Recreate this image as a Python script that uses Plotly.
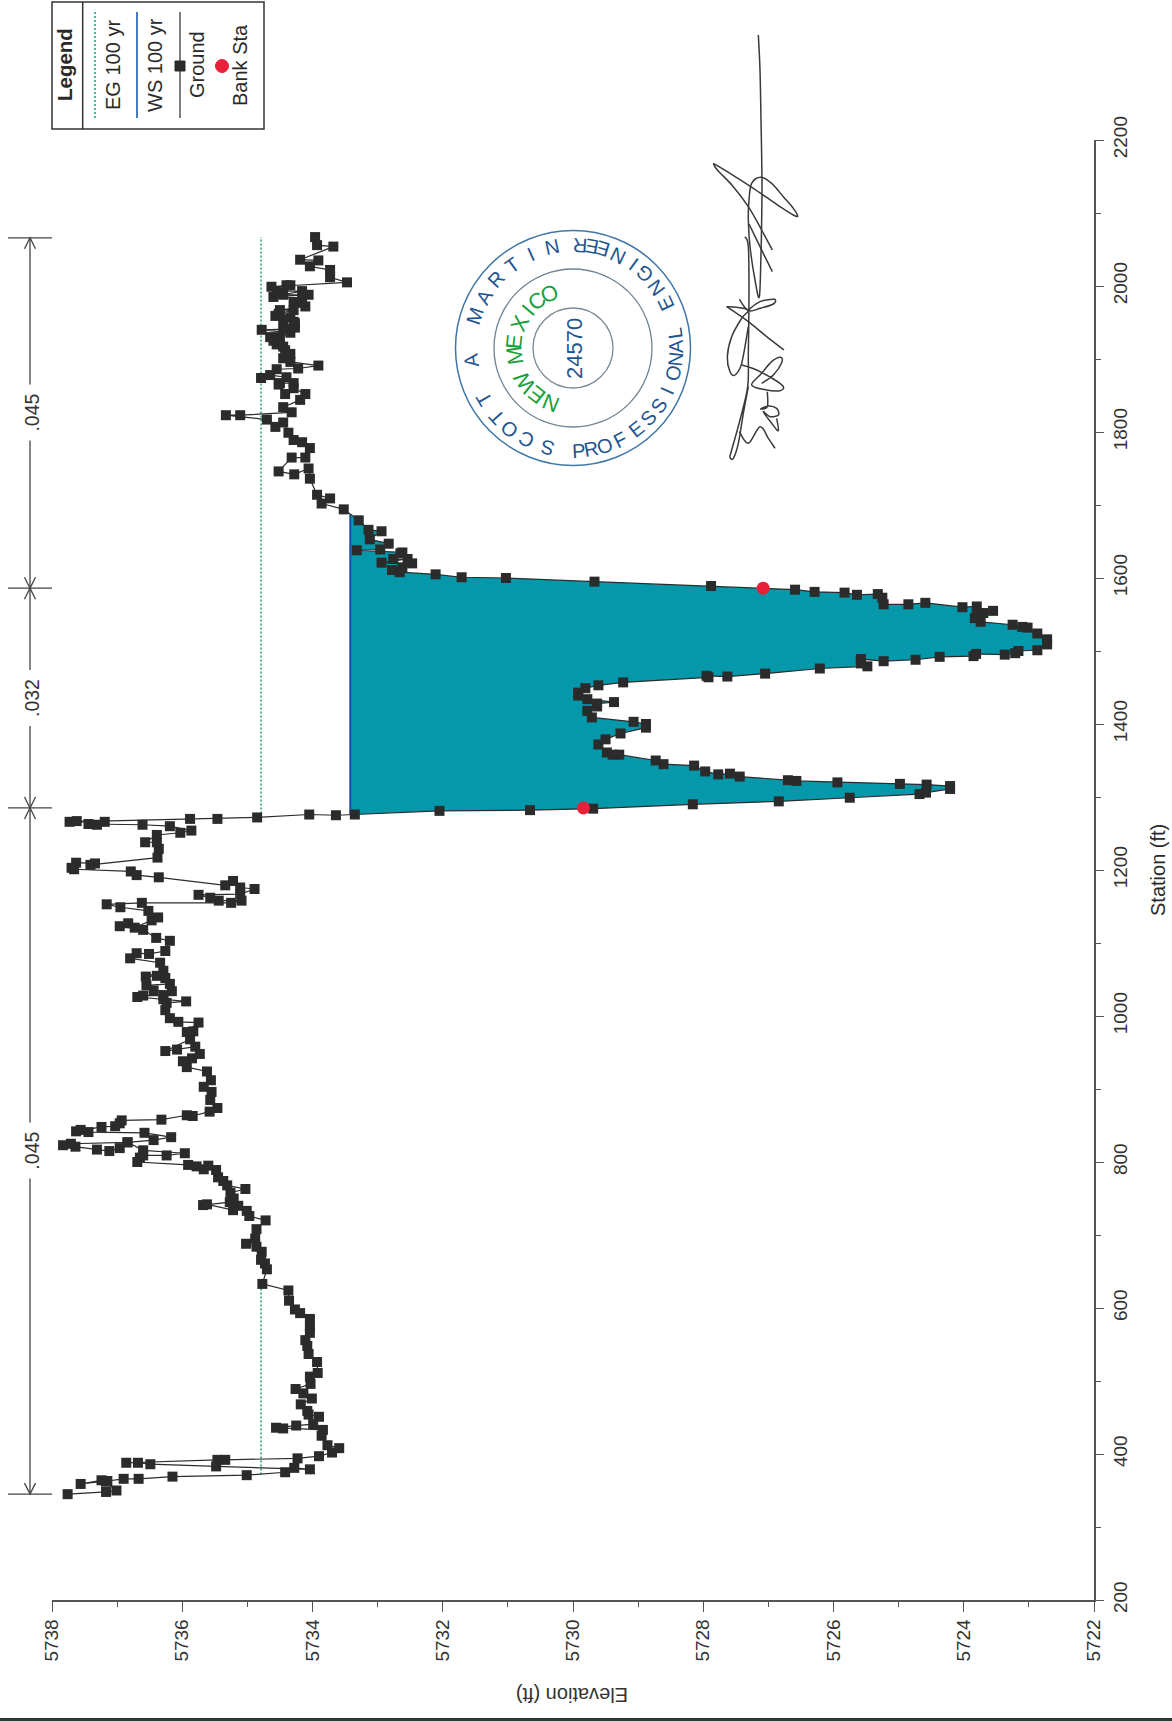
import math
import plotly.graph_objects as go

ground_station = [345,348,350,362,364,359,363,366,366,369,371,375,381,379,383,386,388,388,392,392,394,397,402,408,412,425,433,435,436,439,441,451,454,459,468,476,483,489,496,506,511,526,537,548,556,566,574,585,593,598,610,624,633,653,661,666,677,684,688,695,708,720,726,733,740,734,742,741,745,750,758,763,768,774,779,789,795,790,794,796,800,806,
809,809,812,816,827,819,815,817,821,823,825,827,830,834,840,841,844,842,848,849,853,857,858,864,863,869,874,885,896,903,912,924,930,938,942,948,958,954,952,968,979,978,991,992,997,1008,1018,1020,1023,1026,1028,1028,1034,1035,1042,1044,1052,1055,1054,1062,1073,1079,1086,1085,1089,1103,1107,1118,1123,1127,1121,1131,1135,1144,1149,1153,1155,1155,1158,1158,1162,1166,1167,1174,1176,1185,1179,1190,1193,1198,1201,1203,1210,1209,1207,1217,1229,1238,1238,1248,1251,1254,1260,1262,1262,1263,1266,1267,1266,1270,1270,1272,1276,1275,1276,
1281,1282,1284,1290,1294,1299,1304,1306,1311,1315,1317,1318,1320,1322,1323,1328,1332,1331,1335,1343,1345,1350,1358,1358,1361,1372,1379,1387,1395,1400,1403,1409,1418,1424,1428,1430,1434,1439,1443,1449,1453,1457,1464,1466,1465,1469,1476,1479,1483,1489,1486,1488,1492,1493,1496,1495,1497,1500,1501,1509,1516,1524,1532,1533,1536,1540,1545,1550,1555,1552,1561,1560,1566,1564,1564,1573,1578,1577,1580,1581,1584,1589,1595,1600,1601,1605,
1608,1611,1614,1620,1621,1626,1626,1634,1635,1638,1639,1647,1653,1664,1666,1679,1694,1702,1709,1714,1736,1750,1742,1746,1765,1765,1778,1786,1789,1799,1813,1807,1817,1823,1823,1827,1834,1844,1852,1860,1852,1865,1867,1867,1875,1878,1874,1886,1887,1891,1896,1901,1907,1912,1917,1920,1925,1930,1930,1936,1940,1941,1941,1943,1949,1951,1954,1957,1959,1962,1967,1967,1972,1978,1978,1983,1985,1988,1988,1993,1993,2001,2001,1999,2005,2012,2022,2027,2035,2036,2054,2056,2067]
ground_elev = [5737.76,5737.17,5737.01,5737.17,5737.24,5737.56,5737.15,5736.90,5736.67,5736.15,5735.01,5734.42,5734.28,5734.04,5735.48,5736.49,5736.68,5736.86,5735.46,5735.34,5734.23,5733.90,5733.70,5733.59,5733.77,5733.86,5733.84,5734.45,5734.56,5734.25,5733.99,5733.90,5734.06,5734.08,5734.18,5734.01,5734.14,5734.26,5734.03,5734.04,5733.92,5733.93,5734.06,5734.08,5734.11,5734.04,5734.04,5734.04,5734.19,5734.27,5734.36,5734.37,5734.77,5734.70,5734.73,5734.79,5734.78,5734.86,5735.02,5734.88,5734.86,5734.72,5734.97,5735.01,5735.14,5735.22,5735.62,5735.68,5735.27,5735.21,5735.26,5735.03,5735.31,5735.37,5735.45,5735.48,5735.60,5735.67,5735.78,5735.91,5736.69,5736.65,
5736.60,5736.24,5735.96,5736.60,5736.84,5736.96,5737.12,5737.31,5737.64,5737.83,5737.71,5736.84,5736.44,5736.17,5736.58,5737.44,5737.56,5737.63,5737.24,5737.03,5736.96,5736.93,5736.32,5735.93,5735.84,5735.58,5735.46,5735.57,5735.55,5735.67,5735.56,5735.62,5735.93,5735.99,5735.85,5735.73,5735.80,5736.08,5736.26,5735.88,5735.83,5735.93,5735.75,5736.06,5736.19,5736.26,5736.24,5735.94,5736.29,5736.69,5736.60,5736.29,5736.16,5736.44,5736.55,5736.19,5736.26,5736.39,5736.56,5736.29,5736.34,5736.80,5736.70,5736.51,5736.26,5736.19,5736.40,5736.60,5736.96,5736.83,5736.73,5736.47,5736.37,5736.52,5736.95,5737.16,5736.62,5735.25,5735.09,5735.44,5735.57,5735.75,5735.11,5734.89,5735.11,5735.22,5735.34,5736.36,5736.70,5736.79,5737.66,5737.70,5737.63,5737.34,5737.41,5736.38,5736.36,5736.39,5736.57,5736.39,5736.03,5735.86,5736.19,5736.61,5737.31,5737.44,5737.19,5737.62,5737.73,5735.88,5735.46,5734.85,5734.05,5733.64,5733.35,
5732.05,5730.66,5729.69,5728.16,5726.84,5725.75,5724.68,5724.58,5724.21,5724.21,5724.57,5724.98,5725.94,5726.57,5726.70,5727.44,5727.59,5727.77,5727.97,5728.14,5728.61,5728.73,5729.29,5729.39,5729.48,5729.61,5729.50,5729.27,5728.88,5728.88,5729.07,5729.71,5729.78,5729.63,5729.63,5729.37,5729.78,5729.92,5729.92,5729.81,5729.61,5729.23,5727.92,5727.95,5727.63,5727.05,5726.21,5725.48,5725.58,5725.58,5725.23,5724.74,5724.37,5723.85,5723.81,5723.37,5723.21,5723.16,5722.87,5722.72,5722.72,5722.87,5723.02,5723.10,5723.25,5723.74,5723.83,5723.80,5723.55,5723.70,5723.80,5724.02,5724.59,5724.85,5725.23,5725.25,5725.32,5725.64,5725.83,5726.29,5726.59,5727.88,5729.67,5731.03,5731.71,5732.11,
5732.66,5732.78,5732.62,5732.47,5732.94,5732.54,5732.76,5732.65,5732.62,5733.32,5732.96,5732.83,5733.12,5732.94,5733.14,5733.29,5733.52,5733.86,5733.73,5733.93,5734.04,5734.06,5734.28,5734.52,5734.32,5734.11,5734.04,5734.16,5734.29,5734.37,5734.45,5734.57,5734.70,5735.33,5735.11,5734.32,5734.45,5734.19,5734.11,5734.29,5734.42,5734.52,5734.50,5734.29,5734.40,5734.65,5734.79,5734.55,5734.22,5733.91,5734.34,5734.45,5734.34,5734.42,5734.45,5734.55,5734.60,5734.65,5734.50,5734.34,5734.78,5734.40,5734.45,5734.27,5734.27,5734.29,5734.45,5734.34,5734.57,5734.52,5734.29,5734.50,5734.11,5734.29,5734.19,5734.16,5734.60,5734.06,5734.45,5734.16,5734.55,5734.34,5734.40,5734.63,5733.47,5733.73,5733.73,5734.04,5733.91,5734.19,5733.68,5733.93,5733.96]

bank_station = [1285, 1586]
bank_elev = [5729.84, 5727.08]

eg_station = [372, 633, None, 1272, 2067]
eg_elev = [5734.79, 5734.79, None, 5734.79, 5734.79]

ws_elev_value = 5733.42
ws_station = [1276, 1687]
ws_elev = [ws_elev_value, ws_elev_value]

mann_breaks = [345, 1285, 1586, 2066]
mann_labels = [".045", ".032", ".045"]
mann_centers = [815, 1435, 1826]

elev_title = "Elevation (ft)"
station_title = "Station (ft)"
legend_title = "Legend"
legend_labels = ["EG 100 yr", "WS 100 yr", "Ground", "Bank Sta"]

W, H = 1172, 1721
L, R, T, B = 52, 1094, 140, 1600
FONT = "Liberation Sans"
DARK = "#3a3a3a"


def pxx(x):
    return (x - L) / (R - L)


def pxy(y):
    return (B - y) / (B - T)


def rect(x0, y0, x1, y1, line="#444444", width=1.5, fill=None, kind="rect", layer="above"):
    d = dict(type=kind, xref="paper", yref="paper", x0=pxx(x0), x1=pxx(x1), y0=pxy(y0), y1=pxy(y1),
             line=dict(color=line, width=width), layer=layer)
    if fill:
        d["fillcolor"] = fill
    return d


def path(points, color="#333333", width=1.4, dash=None):
    s = "M" + " L".join(f"{pxx(x):.5f},{pxy(y):.5f}" for x, y in points)
    ln = dict(color=color, width=width)
    if dash:
        ln["dash"] = dash
    return dict(type="path", xref="paper", yref="paper", path=s, line=ln, layer="above")


def smooth(points, color="#333333", width=1.4):
    # Catmull-Rom to cubic Bezier, for pen strokes
    p = [points[0]] + list(points) + [points[-1]]
    s = f"M{pxx(points[0][0]):.5f},{pxy(points[0][1]):.5f}"
    for i in range(1, len(p) - 2):
        c1 = (p[i][0] + (p[i + 1][0] - p[i - 1][0]) / 6, p[i][1] + (p[i + 1][1] - p[i - 1][1]) / 6)
        c2 = (p[i + 1][0] - (p[i + 2][0] - p[i][0]) / 6, p[i + 1][1] - (p[i + 2][1] - p[i][1]) / 6)
        e = p[i + 1]
        s += (f" C{pxx(c1[0]):.5f},{pxy(c1[1]):.5f} {pxx(c2[0]):.5f},{pxy(c2[1]):.5f} "
              f"{pxx(e[0]):.5f},{pxy(e[1]):.5f}")
    return dict(type="path", xref="paper", yref="paper", path=s, line=dict(color=color, width=width), layer="above")


def text(x, y, t, size=19.5, angle=-90, color="#2a2a2a", bold=False, bg=None, pad=0):
    d = dict(xref="paper", yref="paper", x=pxx(x), y=pxy(y), text=f"<b>{t}</b>" if bold else t,
             showarrow=False, textangle=angle, xanchor="center", yanchor="middle",
             font=dict(family=FONT, size=size, color=color))
    if bg:
        d["bgcolor"] = bg
        d["borderpad"] = pad
    return d


river = [(s, e) for s, e in zip(ground_station, ground_elev) if ws_station[0] <= s <= ws_station[1] and e <= ws_elev_value]
fill_x = [ws_elev_value] + [e for s, e in river] + [ws_elev_value]
fill_y = [ws_station[0]] + [s for s, e in river] + [ws_station[1]]

fig = go.Figure()
fig.add_trace(go.Scatter(x=fill_x, y=fill_y, mode="lines", fill="toself", fillcolor="#0498aa",
                         line=dict(width=0), hoverinfo="skip", name="Flow area"))
fig.add_trace(go.Scatter(x=eg_elev, y=eg_station, mode="lines", name=legend_labels[0],
                         line=dict(color="#1f9a6e", width=1.5, dash="2px,2px")))
fig.add_trace(go.Scatter(x=ws_elev, y=ws_station, mode="lines", name=legend_labels[1],
                         line=dict(color="#1d4fa5", width=2)))
fig.add_trace(go.Scatter(x=ground_elev, y=ground_station, mode="lines+markers", name=legend_labels[2],
                         line=dict(color="#2b2b2b", width=1.2),
                         marker=dict(symbol="square", size=10, color="#2b2b2b")))
fig.add_trace(go.Scatter(x=bank_elev, y=bank_station, mode="markers", name=legend_labels[3],
                         marker=dict(symbol="circle", size=13, color="#e8213a")))

shapes = []
annos = []

# Manning's n dimension lines
MX = 30
top_px = lambda s: B - (s - 200) * 0.73
for b in mann_breaks:
    y = top_px(b)
    shapes.append(path([(8, y), (52, y)], color="#444444", width=1.3))
shapes.append(path([(MX, top_px(mann_breaks[0])), (MX, top_px(mann_breaks[-1]))], color="#444444", width=1.3))
for i, b in enumerate(mann_breaks):
    y = top_px(b)
    if i < len(mann_breaks) - 1:
        shapes.append(path([(MX - 5.5, y - 11), (MX, y), (MX + 5.5, y - 11)], color="#444444", width=1.3))
    if i > 0:
        shapes.append(path([(MX - 5.5, y + 11), (MX, y), (MX + 5.5, y + 11)], color="#444444", width=1.3))
for c, lab in zip(mann_centers, mann_labels):
    annos.append(text(MX + 2, top_px(c), "&nbsp;" + lab + "&nbsp;", bg="#ffffff", pad=3, color="#333333"))

# Legend box
shapes.append(rect(52, 2, 264, 129, line="#333333", width=1.5))
shapes.append(path([(82.7, 2), (82.7, 129)], color="#333333", width=1.5))
annos.append(text(65, 65, legend_title, bold=True, size=20.5))
annos.append(text(113, 65, legend_labels[0], size=20))
annos.append(text(155, 65, legend_labels[1], size=20))
annos.append(text(197, 65, legend_labels[2], size=20))
annos.append(text(240, 65, legend_labels[3], size=20))
shapes.append(path([(95, 12), (95, 118)], color="#1f9a6e", width=1.5, dash="2px,2px"))
shapes.append(path([(137, 12), (137, 118)], color="#2f6db8", width=1.8))
shapes.append(path([(180, 12), (180, 118)], color="#555555", width=1.5))
shapes.append(rect(175, 61, 185, 71, line="#2b2b2b", width=1, fill="#2b2b2b"))
shapes.append(rect(215.5, 59.5, 228.5, 72.5, line="#e8213a", width=1, fill="#e8213a", kind="circle"))

# Seal
CX, CY = 573, 348
for r, col, w in [(117.5, "#3f76a8", 1.5), (79, "#6d8496", 1.3), (40, "#7a8a94", 1.3)]:
    shapes.append(rect(CX - r, CY - r, CX + r, CY + r, line=col, width=w, kind="circle"))
SEAL_BLUE = "#1f568f"
outer_cw = list(zip("SCOTTAMARTIN", [194, 207, 218, 228, 240, 263, 288, 300, 312, 324, 336, 348]))
outer_ccw = list(zip("PROFESSIONALENGINEER",
                     [177, 170, 162, 153, 142, 133, 124, 114.5, 103.8, 96, 89, 81.6, 64.7, 54, 44, 36, 26, 17, 10.5, 4]))
green = list(zip("NEWMEXICO", [202, 218, 235, 262, 276, 295, 310, 323, 337]))
for ch, a in outer_cw:
    t = math.radians(a)
    annos.append(text(CX + 103 * math.sin(t), CY - 103 * math.cos(t), ch, size=20, angle=a - 360, color=SEAL_BLUE))
for ch, a in outer_ccw:
    t = math.radians(a)
    annos.append(text(CX + 103 * math.sin(t), CY - 103 * math.cos(t), ch, size=20, angle=a - 180, color=SEAL_BLUE))
for ch, a in green:
    t = math.radians(a)
    annos.append(text(CX + 59 * math.sin(t), CY - 59 * math.cos(t), ch, size=22, angle=a - 360, color="#17a03c"))
annos.append(text(CX + 1, CY + 1, "24570", size=22, color=SEAL_BLUE))


# Signature (decorative ink)
def sig(pts):
    return [(680 + x / 3, 20 + y / 3) for x, y in pts]


strokes = [
    [(235, 45), (240, 150), (243, 300), (246, 480), (245, 600), (243, 700), (238, 830), (225, 780), (210, 680), (205, 600), (207, 540), (215, 490), (243, 472), (275, 490), (310, 530), (340, 565), (353, 588), (340, 585), (300, 560), (220, 505), (150, 460), (100, 430)],
    [(100, 430), (112, 450), (160, 500), (205, 560), (245, 630), (277, 690)],
    [(207, 612), (240, 680), (277, 755)],
    [(195, 650), (205, 680), (207, 820), (205, 1000), (203, 1100), (180, 1200), (155, 1290), (150, 1312), (160, 1315), (175, 1270), (190, 1180), (205, 1100)],
    [(140, 860), (205, 905), (260, 950), (312, 990)],
    [(205, 870), (240, 845), (283, 838), (280, 852), (240, 865), (205, 872), (178, 838)],
    [(140, 860), (170, 862), (205, 870), (185, 895), (155, 950), (142, 1010), (150, 1055), (165, 1065), (185, 1030), (205, 920)],
    [(185, 1035), (230, 1050), (285, 1080), (310, 1100), (300, 1112), (260, 1110), (215, 1095), (245, 1060), (275, 1025), (302, 1012), (305, 1028), (280, 1065), (245, 1090)],
    [(262, 1115), (262, 1160), (242, 1167), (265, 1158), (290, 1165), (295, 1185), (270, 1190), (250, 1175), (275, 1210), (295, 1232), (290, 1195)],
    [(178, 1235), (205, 1270), (240, 1220), (265, 1255), (285, 1285)],
]
for st in strokes:
    shapes.append(smooth(sig(st), color="#3a3a3a", width=1.5))

# Bottom edge
shapes.append(rect(0, 1718, W, 1721, line="#2c3a36", width=0, fill="#2c3a36"))

# Axis titles
annos.append(text(572, 1695, elev_title, size=20, angle=180, color="#333333"))
annos.append(text(1158, 870, station_title, size=20, angle=-90, color="#2a2a2a"))

fig.update_layout(
    width=W, height=H, autosize=False, showlegend=False,
    paper_bgcolor="#ffffff", plot_bgcolor="#ffffff",
    margin=dict(l=L, r=W - R, t=T, b=H - B, pad=0),
    font=dict(family=FONT, color="#333333", size=19),
    shapes=shapes, annotations=annos,
    xaxis=dict(range=[5738, 5722], dtick=2, tick0=5722, showgrid=False, zeroline=False,
               showline=True, linecolor="#555555", linewidth=1.5, ticks="outside", ticklen=10, tickwidth=1.2,
               tickcolor="#555555", tickangle=-90, tickformat="d",
               minor=dict(dtick=1, ticks="outside", ticklen=5, tickwidth=1.2, tickcolor="#555555", showgrid=False)),
    yaxis=dict(range=[200, 2200], dtick=200, side="right", showgrid=False, zeroline=False,
               showline=True, linecolor="#555555", linewidth=1.5, ticks="outside", ticklen=8, tickwidth=1.2,
               tickcolor="#555555", tickangle=-90, tickformat="d",
               minor=dict(dtick=100, ticks="outside", ticklen=5, tickwidth=1.2, tickcolor="#555555", showgrid=False)),
)

fig.write_html("out.html", config={"displayModeBar": False},
               post_script="document.body.style.margin='0';document.body.style.overflow='hidden';")
